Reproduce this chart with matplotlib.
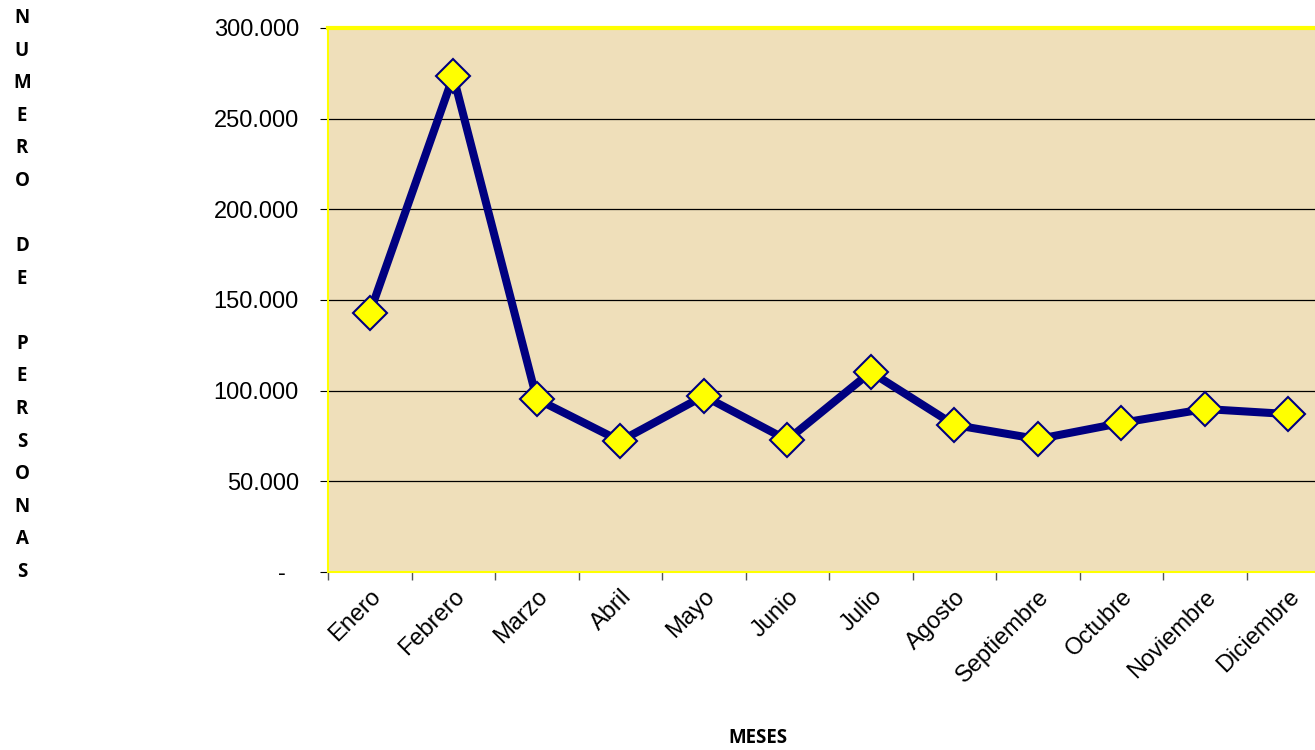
import numpy as np
import matplotlib.pyplot as plt
from matplotlib.ticker import FixedLocator

plt.rcParams['font.family'] = ['Liberation Sans', 'DejaVu Sans']

meses = ["Enero", "Febrero", "Marzo", "Abril", "Mayo", "Junio", "Julio",
         "Agosto", "Septiembre", "Octubre", "Noviembre", "Diciembre"]
personas = [142800, 273500, 95400, 72200, 97100, 72800, 110300,
            81100, 73300, 82200, 89900, 87100]
y_ticks = [0, 50000, 100000, 150000, 200000, 250000, 300000]
y_labels = ["-  ", "50.000", "100.000", "150.000", "200.000", "250.000", "300.000"]
y_title = "NUMERO DE PERSONAS"
x_title = "MESES"

W, H = 1315, 750
fig = plt.figure(figsize=(W / 100, H / 100), dpi=100)
left, right, top, bottom = 328, 1315, 28, 572
ax = fig.add_axes([left / W, 1 - bottom / H, (right - left) / W, (bottom - top) / H])
ax.set_facecolor('#EFDFBA')

x = np.arange(len(meses))
ax.plot(x, personas, color='#000080', lw=5.8, marker='D', ms=17,
        mfc='#FFFF00', mec='#000080', mew=1.5, zorder=3, clip_on=False)

ax.set_ylim(0, 300000)
ax.set_xlim(-0.5, 11.32)
ax.set_yticks(y_ticks)
ax.set_yticklabels(y_labels, fontsize=17)
ax.grid(axis='y', color='black', lw=0.9)
ax.set_axisbelow(True)

ax.set_xticks(x)
ax.set_xticklabels(meses, fontsize=17, rotation=45, ha='right', rotation_mode='anchor')
ax.xaxis.set_minor_locator(FixedLocator(np.arange(-0.5, 12, 1)))
ax.tick_params(axis='x', which='major', length=0, pad=10)
ax.tick_params(axis='x', which='minor', length=6, color='#555555', width=1)
ax.tick_params(axis='y', length=6, color='black', pad=15)

for s in ['left', 'bottom']:
    ax.spines[s].set_color('#FFFF00')
    ax.spines[s].set_linewidth(1.5)
ax.spines['top'].set_color('#FFFF00')
ax.spines['top'].set_linewidth(3)
ax.spines['right'].set_visible(False)

# vertical letters of the y title
letters = list(y_title)
n = len(letters)
y0, y1 = 18, 572
for i, ch in enumerate(letters):
    if ch == ' ':
        continue
    yy = y0 + i * (y1 - y0) / (n - 1)
    fig.text(22 / W, 1 - yy / H, ch, fontsize=13.5, fontweight='bold',
             family=['Open Sans', 'DejaVu Sans'], ha='center', va='center')

fig.text(758 / W, 1 - 738 / H, x_title, fontsize=13.5, fontweight='bold',
         family=['Open Sans', 'DejaVu Sans'], ha='center', va='center')

fig.savefig('out.png', dpi=100)
